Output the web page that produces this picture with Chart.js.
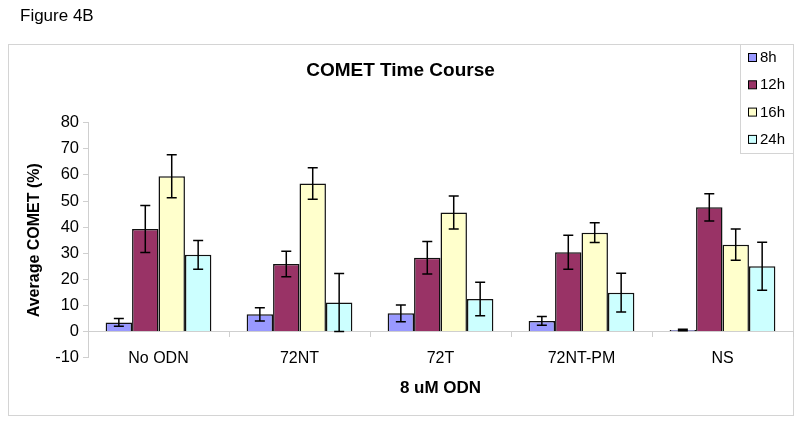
<!DOCTYPE html>
<html><head><meta charset="utf-8">
<script src="https://cdn.jsdelivr.net/npm/chart.js@4/dist/chart.umd.min.js"></script>
<style>html,body{margin:0;padding:0;background:#fff}#wrap{width:800px;height:421px;position:relative}</style>
</head><body><div id="wrap"><canvas id="c" width="800" height="421"></canvas></div>
<script>
const categories = ['No ODN', '72NT', '72T', '72NT-PM', 'NS'];
const seriesLabels = ['8h', '12h', '16h', '24h'];
const values8h  = [3.5, 6.6, 7.0, 4.1, 0.6];
const values12h = [39.3, 25.9, 28.3, 30.4, 47.6];
const values16h = [59.5, 56.7, 45.6, 37.9, 33.3];
const values24h = [29.4, 11.1, 12.5, 14.9, 25.0];
const errors8h  = [1.5, 2.5, 3.2, 1.7, 0.3];
const errors12h = [9.0, 4.9, 6.2, 6.5, 5.2];
const errors16h = [8.2, 6.0, 6.3, 3.8, 6.0];
const errors24h = [5.5, 11.1, 6.4, 7.4, 9.2];
const yTickValues = [-10, 0, 10, 20, 30, 40, 50, 60, 70, 80];
const colors = ['#9999FF', '#993366', '#FFFFCC', '#CCFFFF'];

const FONT = "'Liberation Sans', Arial, sans-serif";
const allValues = [values8h, values12h, values16h, values24h];
const allErrors = [errors8h, errors12h, errors16h, errors24h];

const frame = {
  id: 'frame',
  beforeDraw(chart) {
    const ctx = chart.ctx;
    ctx.save();
    ctx.fillStyle = '#fff';
    ctx.fillRect(0, 0, chart.width, chart.height);
    ctx.strokeStyle = '#d4d4d4';
    ctx.lineWidth = 1;
    ctx.strokeRect(8.5, 44.5, 785, 371);
    ctx.fillStyle = '#000';
    ctx.font = '17px ' + FONT;
    ctx.textBaseline = 'middle';
    ctx.textAlign = 'left';
    ctx.fillText('Figure 4B', 20, 16);
    ctx.restore();
  }
};

const errorBars = {
  id: 'errorBars',
  afterDatasetsDraw(chart) {
    const ctx = chart.ctx;
    const ys = chart.scales.y;
    ctx.save();
    ctx.strokeStyle = '#000';
    ctx.lineWidth = 1.5;
    chart.data.datasets.forEach((ds, i) => {
      const meta = chart.getDatasetMeta(i);
      meta.data.forEach((bar, j) => {
        const v = ds.data[j], e = ds.errors[j];
        const x = bar.x;
        const yt = ys.getPixelForValue(v + e);
        const yb = ys.getPixelForValue(v - e);
        ctx.beginPath();
        ctx.moveTo(x, yt); ctx.lineTo(x, yb);
        ctx.moveTo(x - 5, yt); ctx.lineTo(x + 5, yt);
        ctx.moveTo(x - 5, yb); ctx.lineTo(x + 5, yb);
        ctx.stroke();
      });
    });
    ctx.restore();
  }
};

const boxLegend = {
  id: 'boxLegend',
  afterDraw(chart) {
    const ctx = chart.ctx;
    ctx.save();
    ctx.fillStyle = '#fff';
    ctx.fillRect(740.5, 44.5, 53, 109);
    ctx.strokeStyle = '#d4d4d4';
    ctx.lineWidth = 1;
    ctx.strokeRect(740.5, 44.5, 53, 109);
    ctx.font = '15px ' + FONT;
    ctx.textBaseline = 'middle';
    ctx.textAlign = 'left';
    chart.data.datasets.forEach((ds, i) => {
      const cy = 58 + i * 27.3;
      ctx.fillStyle = ds.backgroundColor;
      ctx.fillRect(748.5, cy - 4.5, 8, 8);
      ctx.strokeStyle = '#000';
      ctx.strokeRect(748.5, cy - 4.5, 8, 8);
      ctx.fillStyle = '#000';
      ctx.fillText(ds.label, 760, cy);
    });
    ctx.restore();
  }
};

new Chart(document.getElementById('c'), {
  type: 'bar',
  data: {
    labels: categories,
    datasets: seriesLabels.map((lab, i) => ({
      label: lab,
      data: allValues[i],
      errors: allErrors[i],
      backgroundColor: colors[i],
      borderColor: '#111',
      borderWidth: 1.5,
      categoryPercentage: 0.75,
      barPercentage: 1.0
    }))
  },
  options: {
    responsive: false,
    animation: false,
    devicePixelRatio: 1,
    layout: { padding: { left: 8, right: 7, top: 59, bottom: 63.3 } },
    plugins: {
      legend: { display: false },
      tooltip: { enabled: false },
      title: {
        display: true,
        text: 'COMET Time Course',
        color: '#000',
        font: { family: FONT, size: 19, weight: 'bold' },
        padding: { top: 0, bottom: 40.9 }
      }
    },
    scales: {
      x: {
        position: { y: 0 },
        grid: { offset: true, drawOnChartArea: false, tickLength: 5, tickColor: '#cfcfcf', tickWidth: 1 },
        border: { color: '#cfcfcf', width: 1 },
        ticks: { color: '#000', font: { family: FONT, size: 16 }, padding: 12, maxRotation: 0 },
        title: { display: true, text: '8 uM ODN', color: '#000', font: { family: FONT, size: 17, weight: 'bold' }, padding: { top: -2, bottom: 0 } }
      },
      y: {
        min: -10, max: 80,
        afterBuildTicks(scale) { scale.ticks = yTickValues.map(v => ({ value: v })); },
        afterFit(scale) { scale.width = 80; },
        grid: { drawOnChartArea: false, tickLength: 5, tickColor: '#cfcfcf' },
        border: { color: '#cfcfcf', width: 1 },
        ticks: { color: '#000', font: { family: FONT, size: 16.5 }, padding: 4 },
        title: { display: true, text: 'Average COMET (%)', color: '#000', font: { family: FONT, size: 16, weight: 'bold' }, padding: { top: 17, bottom: 0 } }
      }
    }
  },
  plugins: [frame, errorBars, boxLegend]
});
</script>
</body></html>
